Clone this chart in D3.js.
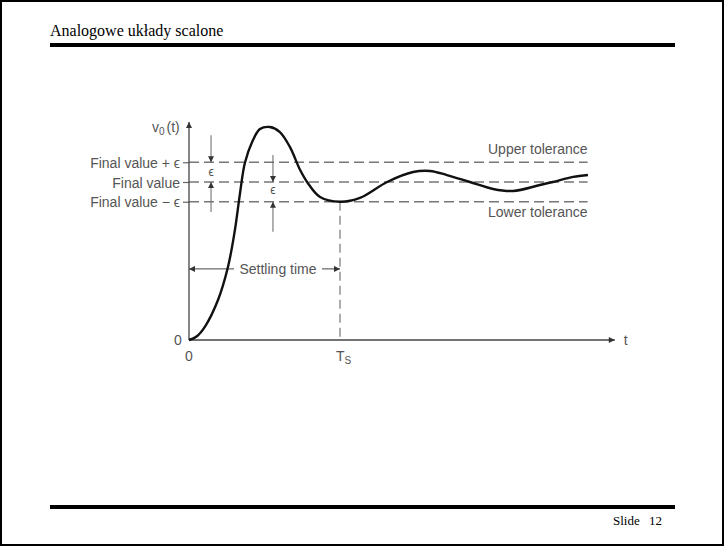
<!DOCTYPE html>
<html>
<head>
<meta charset="utf-8">
<script src="https://cdn.jsdelivr.net/npm/d3@7"></script>
<style>
  body { margin: 0; background: #fff; }
  svg { display: block; }
  .lbl { font-family: "Liberation Sans", Arial, sans-serif; font-size: 14px; fill: #555; }
  .slide { font-family: "Liberation Serif", "Times New Roman", serif; fill: #000; }
</style>
</head>
<body>
<div id="chart"></div>
<script>
// response curve (time units: Ts = 5, final value = 1)
const tVals = [0, 0.25, 0.53, 0.96, 1.29, 1.52, 1.69, 1.85, 2.09, 2.35, 2.68, 3.01, 3.34, 3.68, 3.91, 4.34, 5.0, 5.66, 6.56, 7.42, 7.98, 8.54, 9.30, 10.07, 10.73, 11.62, 12.05, 12.72, 13.21];
const vVals = [0, 0.022, 0.085, 0.253, 0.462, 0.696, 0.930, 1.120, 1.253, 1.335, 1.348, 1.316, 1.222, 1.076, 1.0, 0.905, 0.875, 0.899, 1.0, 1.063, 1.070, 1.044, 1.0, 0.956, 0.943, 0.981, 1.0, 1.032, 1.044];

const finalValue = 1;
const eps = 0.125;
const settleT = 5;
const tEnd = 13.2;      // end of the dashed tolerance lines
const tAxisMax = 14.1;
const vAxisMax = 1.38;

const bandValues = [finalValue + eps, finalValue, finalValue - eps];
const bandLabels = ["Final value + \u03F5", "Final value", "Final value \u2212 \u03F5"];
const toleranceLabels = ["Upper tolerance", "Lower tolerance"];

const width = 724, height = 546;

const svg = d3.select("#chart").append("svg")
  .attr("width", width)
  .attr("height", height);

// slide frame
svg.append("rect")
  .attr("x", 1).attr("y", 1)
  .attr("width", width - 2).attr("height", height - 2)
  .attr("fill", "none").attr("stroke", "#000").attr("stroke-width", 2);

svg.append("text").attr("class", "slide")
  .attr("x", 50).attr("y", 36)
  .style("font-size", "16px")
  .text("Analogowe układy scalone");

svg.append("rect").attr("x", 50).attr("y", 43).attr("width", 625).attr("height", 4).attr("fill", "#000");
svg.append("rect").attr("x", 50).attr("y", 505).attr("width", 625).attr("height", 4).attr("fill", "#000");

svg.append("text").attr("class", "slide")
  .attr("x", 613).attr("y", 525)
  .style("font-size", "13px")
  .text("Slide");
svg.append("text").attr("class", "slide")
  .attr("x", 662).attr("y", 525)
  .attr("text-anchor", "end")
  .style("font-size", "13px")
  .text("12");

// chart
const x = d3.scaleLinear().domain([0, 10]).range([189, 491]);
const y = d3.scaleLinear().domain([0, 1]).range([340, 182]);

const defs = svg.append("defs");
defs.append("marker")
  .attr("id", "arr")
  .attr("viewBox", "0 0 10 10")
  .attr("refX", 10).attr("refY", 5)
  .attr("markerWidth", 9).attr("markerHeight", 6)
  .attr("markerUnits", "userSpaceOnUse")
  .attr("orient", "auto")
  .append("path").attr("d", "M0,0 L10,5 L0,10 Z").attr("fill", "#333");

const g = svg.append("g");
const gray = "#666";

// dashed tolerance lines
g.selectAll(".band")
  .data(bandValues)
  .enter().append("line")
  .attr("x1", x(0)).attr("x2", x(tEnd))
  .attr("y1", d => y(d)).attr("y2", d => y(d))
  .attr("stroke", "#777").attr("stroke-width", 1.3)
  .attr("stroke-dasharray", "10,5");

// Ts vertical dashed
g.append("line")
  .attr("x1", x(settleT)).attr("x2", x(settleT))
  .attr("y1", y(finalValue - eps)).attr("y2", y(0))
  .attr("stroke", "#777").attr("stroke-width", 1.2)
  .attr("stroke-dasharray", "9,5");

// y axis with band ticks
const yAxis = g.append("g")
  .attr("transform", `translate(${x(0)},0)`)
  .call(d3.axisLeft(y).tickValues(bandValues).tickSize(6).tickPadding(3)
    .tickFormat((d, i) => bandLabels[i]));
yAxis.select(".domain").remove();
yAxis.selectAll(".tick line").attr("stroke", gray).attr("stroke-width", 1.2);
yAxis.selectAll(".tick text").attr("class", "lbl").attr("dy", "0.36em").attr("fill", "#555");

// axis lines with arrows
g.append("line")
  .attr("x1", x(0)).attr("x2", x(0))
  .attr("y1", y(0)).attr("y2", y(vAxisMax))
  .attr("stroke", "#444").attr("stroke-width", 1.3)
  .attr("marker-end", "url(#arr)");
g.append("line")
  .attr("x1", x(0)).attr("x2", x(tAxisMax))
  .attr("y1", y(0)).attr("y2", y(0))
  .attr("stroke", "#444").attr("stroke-width", 1.3)
  .attr("marker-end", "url(#arr)");

// x axis labels
const xAxis = g.append("g")
  .attr("transform", `translate(0,${y(0)})`)
  .call(d3.axisBottom(x).tickValues([0, settleT]).tickSize(0).tickPadding(8)
    .tickFormat(() => ""));
xAxis.select(".domain").remove();
xAxis.selectAll(".tick text").remove();

g.append("text").attr("class", "lbl")
  .attr("x", x(0)).attr("y", y(0) + 21)
  .attr("text-anchor", "middle").text("0");
const ts = g.append("text").attr("class", "lbl")
  .attr("x", x(settleT) - 4).attr("y", y(0) + 21);
ts.append("tspan").text("T");
ts.append("tspan").attr("dy", 3).style("font-size", "10px").text("S");

g.append("text").attr("class", "lbl")
  .attr("x", x(0) - 11).attr("y", y(0) + 5)
  .attr("text-anchor", "middle").text("0");
g.append("text").attr("class", "lbl")
  .attr("x", x(tAxisMax) + 11).attr("y", y(0) + 5)
  .attr("text-anchor", "middle").text("t");

const vlab = g.append("text").attr("class", "lbl")
  .attr("x", 152).attr("y", y(vAxisMax) + 10);
vlab.append("tspan").text("v");
vlab.append("tspan").attr("dy", 3).style("font-size", "10px").text("0");
vlab.append("tspan").attr("dy", -3).attr("dx", 2).text("(t)");

// tolerance labels
g.selectAll(".tol")
  .data(toleranceLabels)
  .enter().append("text").attr("class", "lbl")
  .attr("x", x(tEnd)).attr("text-anchor", "end")
  .attr("y", (d, i) => i === 0 ? y(finalValue + eps) - 8 : y(finalValue - eps) + 15)
  .text(d => d);

// epsilon markers
function epsMarker(t, top, bottom, yLabel) {
  g.append("line")
    .attr("x1", x(t)).attr("x2", x(t))
    .attr("y1", y(top) - 27).attr("y2", y(top))
    .attr("stroke", gray).attr("stroke-width", 1)
    .attr("marker-end", "url(#arr)");
  g.append("line")
    .attr("x1", x(t)).attr("x2", x(t))
    .attr("y1", y(bottom) + 30).attr("y2", y(bottom))
    .attr("stroke", gray).attr("stroke-width", 1)
    .attr("marker-end", "url(#arr)");
  g.append("text").attr("class", "lbl")
    .attr("x", x(t)).attr("y", y(yLabel) + 4)
    .attr("text-anchor", "middle")
    .style("font-size", "12px")
    .text("\u03F5");
}
epsMarker(0.73, finalValue + eps, finalValue, finalValue + eps / 2);
epsMarker(2.78, finalValue, finalValue - eps, finalValue - eps / 2 + 0.01);

// settling time arrow
const settleY = y(0.45);
g.append("line")
  .attr("x1", 234).attr("x2", x(0))
  .attr("y1", settleY).attr("y2", settleY)
  .attr("stroke", "#444").attr("stroke-width", 1)
  .attr("marker-end", "url(#arr)");
g.append("line")
  .attr("x1", 322).attr("x2", x(settleT))
  .attr("y1", settleY).attr("y2", settleY)
  .attr("stroke", "#444").attr("stroke-width", 1)
  .attr("marker-end", "url(#arr)");
g.append("text").attr("class", "lbl")
  .attr("x", 278).attr("y", settleY + 5)
  .attr("text-anchor", "middle")
  .text("Settling time");

// response curve
const pts = tVals.map((t, i) => [t, vVals[i]]);
const line = d3.line()
  .x(d => x(d[0]))
  .y(d => y(d[1]))
  .curve(d3.curveCatmullRom.alpha(0.5));
g.append("path")
  .datum(pts)
  .attr("d", line)
  .attr("fill", "none")
  .attr("stroke", "#111")
  .attr("stroke-width", 2.4);
</script>
</body>
</html>
